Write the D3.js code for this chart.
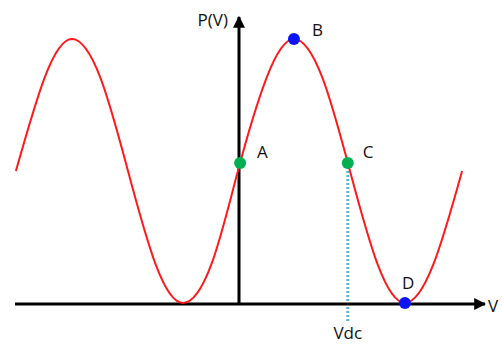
<!DOCTYPE html>
<html>
<head>
<meta charset="utf-8">
<script src="https://cdn.jsdelivr.net/npm/d3@7"></script>
<style>
  body { margin: 0; background: #fff; }
  svg { display: block; }
  text { font-family: "Open Sans", "Liberation Sans", sans-serif; font-size: 17px; fill: #111; }
</style>
</head>
<body>
<svg width="502" height="345" viewBox="0 0 502 345"></svg>
<script>
// curve (V in quarter-periods, P normalised 0..2)
const curveV = [-4.02, -3.5, -3.01, -2.5, -2.0, -1.5, -1.01, -0.5, -0.02, 0.5, 0.99, 1.5, 2.0, 2.5, 2.99, 3.5, 4.02];
const curveP = [1.0, 1.71, 2.0, 1.71, 1.0, 0.29, 0.0, 0.29, 1.0, 1.71, 2.0, 1.71, 1.0, 0.29, 0.0, 0.29, 1.0];

const pointNames = ["A", "B", "C", "D"];
const pointV = [0.02, 0.99, 1.96, 2.99];
const pointP = [1.06, 2.0, 1.06, 0.0];
const pointColors = ["#00b050", "#0a14f5", "#00b050", "#0a14f5"];

const vdcV = 1.96;
const axisNames = { x: "V", y: "P(V)", vdc: "Vdc" };

let svg = d3.select("svg");

let xScale = d3.scaleLinear().domain([-4, 4]).range([17, 461]);
let yScale = d3.scaleLinear().domain([0, 2]).range([303, 39]);

let defs = svg.append("defs");
defs.append("marker")
  .attr("id", "arrow")
  .attr("viewBox", "0 0 10 10")
  .attr("refX", 9)
  .attr("refY", 5)
  .attr("markerWidth", 4)
  .attr("markerHeight", 4)
  .attr("markerUnits", "strokeWidth")
  .attr("orient", "auto")
  .append("path")
  .attr("d", "M0,0 L10,5 L0,10 Z")
  .attr("fill", "#000");

// dotted Vdc line
svg.append("line")
  .attr("x1", xScale(vdcV)).attr("x2", xScale(vdcV))
  .attr("y1", yScale(1.06)).attr("y2", 323)
  .attr("stroke", "#5ab6d2")
  .attr("stroke-width", 3)
  .attr("stroke-dasharray", "2,2");

// axes
svg.append("line")
  .attr("x1", 15).attr("x2", 485)
  .attr("y1", yScale(0) + 1).attr("y2", yScale(0) + 1)
  .attr("stroke", "#000").attr("stroke-width", 3)
  .attr("marker-end", "url(#arrow)");
svg.append("line")
  .attr("x1", xScale(0)).attr("x2", xScale(0))
  .attr("y1", yScale(0) + 1).attr("y2", 17)
  .attr("stroke", "#000").attr("stroke-width", 3)
  .attr("marker-end", "url(#arrow)");

let data = curveV.map((v, i) => ({ v: v, p: curveP[i] }));
let line = d3.line()
  .x((d) => xScale(d.v))
  .y((d) => yScale(d.p))
  .curve(d3.curveNatural);

svg.append("path")
  .datum(data)
  .attr("d", line)
  .attr("fill", "none")
  .attr("stroke", "#ff1a1a")
  .attr("stroke-width", 2);

let pts = pointNames.map((n, i) => ({ name: n, v: pointV[i], p: pointP[i], color: pointColors[i] }));

svg.selectAll(".pt")
  .data(pts)
  .enter()
  .append("circle")
  .attr("class", "pt")
  .attr("cx", (d) => xScale(d.v))
  .attr("cy", (d) => yScale(d.p))
  .attr("r", 6)
  .attr("fill", (d) => d.color);

let labelOffsets = { A: [17, -5], B: [18, -3], C: [15, -5], D: [-3, -14] };
svg.selectAll(".lbl")
  .data(pts)
  .enter()
  .append("text")
  .attr("class", "lbl")
  .attr("x", (d) => xScale(d.v) + labelOffsets[d.name][0])
  .attr("y", (d) => yScale(d.p) + labelOffsets[d.name][1])
  .text((d) => d.name);

svg.append("text").attr("x", 488).attr("y", 312).text(axisNames.x);
svg.append("text").attr("x", 228).attr("y", 26).attr("text-anchor", "end").text(axisNames.y);
svg.append("text").attr("x", xScale(vdcV)).attr("y", 339).attr("text-anchor", "middle").text(axisNames.vdc);
</script>
</body>
</html>
